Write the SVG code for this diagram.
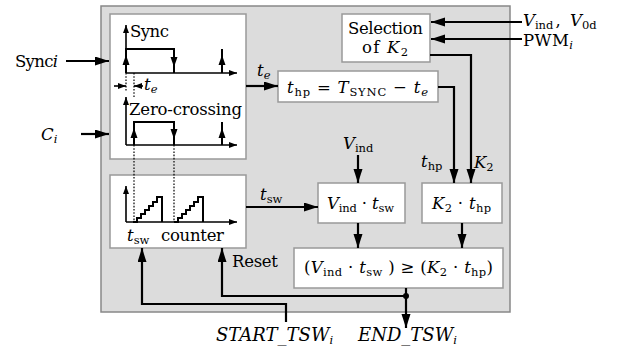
<svg xmlns="http://www.w3.org/2000/svg" width="623" height="350" viewBox="0 0 623 350">
<defs>
<marker id="ah" markerUnits="userSpaceOnUse" markerWidth="16" markerHeight="10" refX="14" refY="4.5" orient="auto"><path d="M0,0 L14,4.5 L0,9 z" fill="#000"/></marker>
<marker id="sa" markerUnits="userSpaceOnUse" markerWidth="10" markerHeight="8" refX="8" refY="3" orient="auto"><path d="M0,0 L8,3 L0,6 z" fill="#000"/></marker>
<style>
text{font-family:"DejaVu Serif","Liberation Serif",serif;font-size:16.5px;fill:#000}
.i{font-style:italic}
.s{font-size:11.5px}
.b{font-size:18px}
.box{fill:#fff;stroke:#999;stroke-width:1.5}
.ln{fill:none;stroke:#000;stroke-width:2.2}
.ax{fill:none;stroke:#000;stroke-width:1.6}
.pl{fill:none;stroke:#000;stroke-width:2}
.dot{fill:none;stroke:#000;stroke-width:1.2;stroke-dasharray:1.6,1.6}
</style>
</defs>
<rect x="101" y="6" width="409" height="306" fill="#dcdcdc" stroke="#888" stroke-width="1.5"/>

<g id="sync-box">
<rect class="box" x="110" y="14" width="136" height="145"/>
<text x="130" y="37" textLength="39">Sync</text>
<line class="ax" x1="126" y1="73" x2="126" y2="25" marker-end="url(#sa)"/>
<line class="ax" x1="126" y1="73" x2="237" y2="73" marker-end="url(#sa)"/>
<path class="pl" d="M126,73 V49 H174 V73"/>
<line class="pl" x1="222" y1="49" x2="222" y2="73"/>
<polygon points="126,55 122.5,65 129.5,65"/>
<polygon points="174,67 170.5,57 177.5,57"/>
<polygon points="222,55 218.5,65 225.5,65"/>
<line class="dot" x1="126" y1="73" x2="126" y2="92"/>
<line class="dot" x1="134" y1="73" x2="134" y2="97"/>
<line class="ax" x1="114" y1="86" x2="126" y2="86" marker-end="url(#sa)"/>
<line class="ax" x1="143" y1="86" x2="134" y2="86" marker-end="url(#sa)"/>
<text x="144" y="90" class="i">t<tspan class="s" dy="3">e</tspan></text>
<text x="129" y="115" textLength="113">Zero-crossing</text>
<line class="ax" x1="126" y1="145" x2="126" y2="97" marker-end="url(#sa)"/>
<line class="ax" x1="126" y1="145" x2="237" y2="145" marker-end="url(#sa)"/>
<path class="pl" d="M134,145 V122 H174 V145"/>
<line class="pl" x1="222" y1="122" x2="222" y2="145"/>
<polygon points="134,128 130.5,138 137.5,138"/>
<polygon points="174,139 170.5,129 177.5,129"/>
<polygon points="222,128 218.5,138 225.5,138"/>
</g>

<g id="counter-box">
<rect class="box" x="110" y="175" width="136" height="73"/>
<line class="ax" x1="126" y1="222" x2="126" y2="186" marker-end="url(#sa)"/>
<line class="ax" x1="126" y1="222" x2="237" y2="222" marker-end="url(#sa)"/>
<path class="pl" d="M133,222 H137 V218 H141 V214 H145 V210 H149 V206 H153 V202 H157 V197 H162 V222"/>
<path class="pl" d="M174,222 H178 V218 H182 V214 H186 V210 H190 V206 H194 V202 H198 V197 H203 V222"/>
<text x="127" y="241" class="i">t<tspan class="s" font-style="normal" dy="3">sw</tspan></text>
<text x="161" y="241" textLength="63">counter</text>
</g>

<g id="dotted-links">
<line class="dot" x1="134" y1="145" x2="134" y2="222"/>
<line class="dot" x1="174" y1="145" x2="174" y2="222"/>
</g>

<g id="thp-box">
<rect class="box" x="278" y="71" width="160" height="31"/>
<text x="287" y="93" textLength="141"><tspan class="i">t</tspan><tspan class="s" dy="3">hp</tspan><tspan dy="-3"> = </tspan><tspan class="i">T</tspan><tspan class="s" dy="3">SYNC</tspan><tspan dy="-3"> − </tspan><tspan class="i">t</tspan><tspan class="s i" dy="3">e</tspan></text>
</g>

<g id="selection-box">
<rect class="box" x="342" y="14" width="88" height="48"/>
<text x="348" y="34" textLength="75">Selection</text>
<text x="362" y="53" textLength="46">of <tspan class="i">K</tspan><tspan class="s" dy="3">2</tspan></text>
</g>

<g id="vind-tsw-box">
<rect class="box" x="318" y="183" width="87" height="40"/>
<text x="327" y="209" textLength="67"><tspan class="i">V</tspan><tspan class="s" dy="3">ind</tspan><tspan dy="-3"> · </tspan><tspan class="i">t</tspan><tspan class="s" dy="3">sw</tspan></text>
</g>

<g id="k2-thp-box">
<rect class="box" x="422" y="183" width="80" height="40"/>
<text x="432" y="209" textLength="59"><tspan class="i">K</tspan><tspan class="s" dy="3">2</tspan><tspan dy="-3"> · </tspan><tspan class="i">t</tspan><tspan class="s" dy="3">hp</tspan></text>
</g>

<g id="compare-box">
<rect class="box" x="294" y="248" width="209" height="40"/>
<text x="304" y="273" textLength="189">(<tspan class="i">V</tspan><tspan class="s" dy="3">ind</tspan><tspan dy="-3"> · </tspan><tspan class="i">t</tspan><tspan class="s" dy="3">sw</tspan><tspan dy="-3"> ) ≥ (</tspan><tspan class="i">K</tspan><tspan class="s" dy="3">2</tspan><tspan dy="-3"> · </tspan><tspan class="i">t</tspan><tspan class="s" dy="3">hp</tspan><tspan dy="-3">)</tspan></text>
</g>

<g id="connectors">
<line class="ln" x1="66" y1="61" x2="109" y2="61" marker-end="url(#ah)"/>
<line class="ln" x1="81" y1="134" x2="109" y2="134" marker-end="url(#ah)"/>
<line class="ln" x1="246" y1="86" x2="278" y2="86" marker-end="url(#ah)"/>
<line class="ln" x1="246" y1="207" x2="318" y2="207" marker-end="url(#ah)"/>
<line class="ln" x1="522" y1="22" x2="431" y2="22" marker-end="url(#ah)"/>
<line class="ln" x1="522" y1="39" x2="431" y2="39" marker-end="url(#ah)"/>
<path class="ln" d="M430,55 H471 V183" marker-end="url(#ah)"/>
<path class="ln" d="M438,87 H454 V183" marker-end="url(#ah)"/>
<line class="ln" x1="358" y1="155" x2="358" y2="183" marker-end="url(#ah)"/>
<line class="ln" x1="358" y1="223" x2="358" y2="248" marker-end="url(#ah)"/>
<line class="ln" x1="462" y1="223" x2="462" y2="248" marker-end="url(#ah)"/>
<line class="ln" x1="406" y1="288" x2="406" y2="328" marker-end="url(#ah)"/>
<path class="ln" d="M406,296 H222 V248" marker-end="url(#ah)"/>
<circle cx="406" cy="296" r="3" fill="#000"/>
<path class="ln" d="M286,322 V304 H142 V248" marker-end="url(#ah)"/>
</g>

<g id="labels">
<text x="15" y="67" textLength="43">Sync<tspan class="i">i</tspan></text>
<text x="41" y="140" class="i">C<tspan class="s" dy="3">i</tspan></text>
<text x="257" y="76" class="i">t<tspan class="s" dy="3">e</tspan></text>
<text x="260" y="200" class="i">t<tspan class="s" font-style="normal" dy="3">sw</tspan></text>
<text x="523" y="26"><tspan class="i">V</tspan><tspan class="s" dy="3">ind</tspan><tspan dx="2" dy="-3">,</tspan></text>
<text x="570" y="26"><tspan class="i">V</tspan><tspan class="s" dy="3">0d</tspan></text>
<text x="523" y="46" textLength="50">PWM<tspan class="s i" dy="3">i</tspan></text>
<text x="343" y="149"><tspan class="i">V</tspan><tspan class="s" dy="3">ind</tspan></text>
<text x="421" y="167"><tspan class="i">t</tspan><tspan class="s" dy="3">hp</tspan></text>
<text x="474" y="168"><tspan class="i">K</tspan><tspan class="s" dy="3">2</tspan></text>
<text x="232" y="267" textLength="46">Reset</text>
<text x="216" y="341" class="i b">START_TSW<tspan class="s" dy="3">i</tspan></text>
<text x="358" y="341" class="i b">END_TSW<tspan class="s" dy="3">i</tspan></text>
</g>
</svg>
